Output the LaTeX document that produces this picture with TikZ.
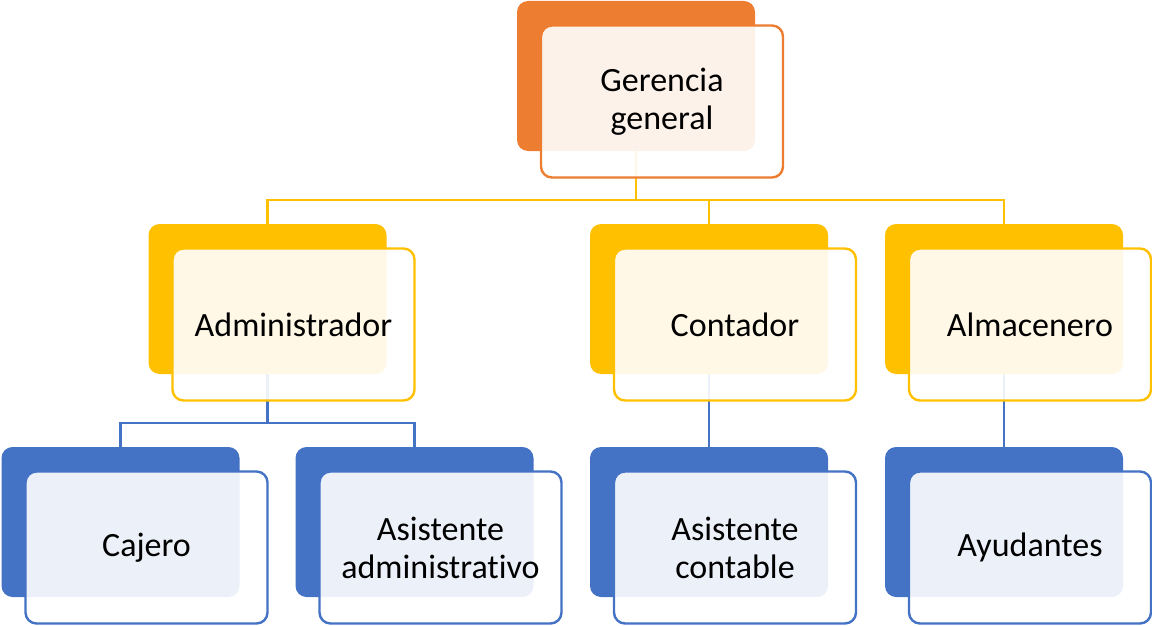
\documentclass[tikz,border=0pt]{standalone}
\usepackage{fontspec}
\setmainfont{Carlito}[Ligatures=CommonOff]
\usetikzlibrary{positioning}
\pgfdeclarelayer{fondo}
\pgfsetlayers{fondo,main}
\definecolor{naranja}{HTML}{ED7D31}
\definecolor{oro}{HTML}{FFC000}
\definecolor{azul}{HTML}{4472C4}
\tikzset{
	atras/.style={fill=#1,rounded corners=11pt,minimum width=238pt,minimum height=150pt,inner sep=0pt},
	frente/.style={draw=#1,line width=2.4pt,fill=white,fill opacity=0.9,text opacity=1,rounded corners=11pt,
		minimum width=242pt,minimum height=152pt,inner sep=0pt,align=center,xshift=26pt,yshift=-25.5pt,
		font=\fontsize{34}{38}\selectfont},
	linea/.style={draw=#1,line width=2.4pt}
}
\begin{document}
\begin{tikzpicture}[x=1pt,y=-1pt,line join=round,line cap=butt]
			\useasboundingbox (0,0) rectangle (1152,626);
			\def\yuno{76};
			\def\ydos{299};
			\def\ytres{522};
			\node[atras=naranja] (ger) at (636,\yuno) {};
			\node[atras=oro] (adm) at (267.5,\ydos) {};
			\node[atras=oro] (con) at (709,\ydos) {};
			\node[atras=oro] (alm) at (1004,\ydos) {};
			\node[atras=azul] (caj) at (120.5,\ytres) {};
			\node[atras=azul] (asa) at (414.5,\ytres) {};
			\node[atras=azul] (asc) at (709,\ytres) {};
			\node[atras=azul] (ayu) at (1004,\ytres) {};
			\node[frente=naranja] (gerT) at (ger) {Gerencia\\general};
			\node[frente=oro] (admT) at (adm) {Administrador};
			\node[frente=oro] (conT) at (con) {Contador};
			\node[frente=oro] (almT) at (alm) {Almacenero};
			\node[frente=azul] (cajT) at (caj) {Cajero};
			\node[frente=azul] (asaT) at (asa) {Asistente\\administrativo};
			\node[frente=azul] (ascT) at (asc) {Asistente\\contable};
			\node[frente=azul] (ayuT) at (ayu) {Ayudantes};
			\coordinate (ramaA) at (636,200);
			\coordinate (ramaB) at (267.5,423);
			\begin{pgfonlayer}{fondo}
				\draw[linea=oro] (ger.south) -- (ramaA) -| (adm.north);
				\draw[linea=oro] (ramaA) -| (con.north);
				\draw[linea=oro] (ramaA) -| (alm.north);
				\draw[linea=azul] (adm.south) -- (ramaB) -| (caj.north);
				\draw[linea=azul] (ramaB) -| (asa.north);
				\draw[linea=azul] (con.south) -- (asc.north);
				\draw[linea=azul] (alm.south) -- (ayu.north);
			\end{pgfonlayer}
		\end{tikzpicture}
\end{document}
